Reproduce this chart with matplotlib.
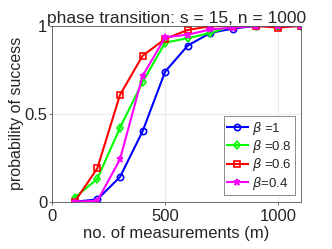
import numpy as np
import matplotlib.pyplot as plt

plt.rcParams['font.family'] = ['Liberation Sans', 'DejaVu Sans']
plt.rcParams['mathtext.fontset'] = 'dejavusans'
plt.rcParams['text.color'] = '#262626'
plt.rcParams['axes.labelcolor'] = '#262626'
plt.rcParams['xtick.labelcolor'] = '#262626'
plt.rcParams['ytick.labelcolor'] = '#262626'

m = [100, 200, 300, 400, 500, 600, 700, 800, 900, 1000, 1100]
beta_1 = [0.0, 0.013, 0.14, 0.40, 0.74, 0.888, 0.96, 0.985, 1.0, 1.0, 1.0]
beta_08 = [0.023, 0.13, 0.42, 0.68, 0.905, 0.93, 0.96, 1.0, 1.0, 1.0, 1.0]
beta_06 = [0.0, 0.19, 0.607, 0.83, 0.926, 0.977, 0.998, 1.0, 1.0, 0.99, 1.0]
beta_04 = [0.0, 0.005, 0.24, 0.715, 0.935, 0.95, 0.98, 0.99, 1.0, 1.0, 1.0]

fig = plt.figure(figsize=(3.32, 2.49), dpi=100)
ax = fig.add_axes([0.157, 0.19, 0.749, 0.706])

kw = dict(lw=1.5, ms=4.5, mfc='none', mew=1.2)
ax.plot(m, beta_1, '-o', color='#0000ff', label=r'$\beta$ =1', **kw)
ax.plot(m, beta_08, '-d', color='#00ff00', label=r'$\beta$ =0.8', **kw)
ax.plot(m, beta_06, '-s', color='#ff0000', label=r'$\beta$ =0.6', **kw)
ax.plot(m, beta_04, '-*', color='#ff00ff', label=r'$\beta$=0.4', **kw)

ax.set_xlim(0, 1100)
ax.set_ylim(0, 1)
ax.set_xticks([0, 500, 1000])
ax.set_yticks([0, 0.5, 1])
ax.set_yticklabels(['0', '0.5', '1'])
ax.grid(True, color='#e6e6e6', lw=0.6)
ax.set_axisbelow(True)
for s in ax.spines.values():
    s.set_color('#555555')
    s.set_linewidth(0.6)
ax.tick_params(labelsize=12, length=2, width=0.6, color='#555555', pad=1.5)
ax.tick_params(axis='x', pad=3.5)

ax.set_title('phase transition: s = 15, n = 1000', fontsize=12.5, pad=1)
ax.set_xlabel('no. of measurements (m)', fontsize=12, labelpad=1)
ax.set_ylabel('probability of success', fontsize=11.5, labelpad=0)

leg = ax.legend(loc='lower right', fontsize=9.5, fancybox=False, edgecolor='#555555',
                handlelength=1.6, handletextpad=0.3, borderpad=0.25, labelspacing=0.1,
                borderaxespad=0, bbox_to_anchor=(0.977, 0.038))
leg.get_frame().set_linewidth(0.6)

fig.savefig('out.png', dpi=100)
